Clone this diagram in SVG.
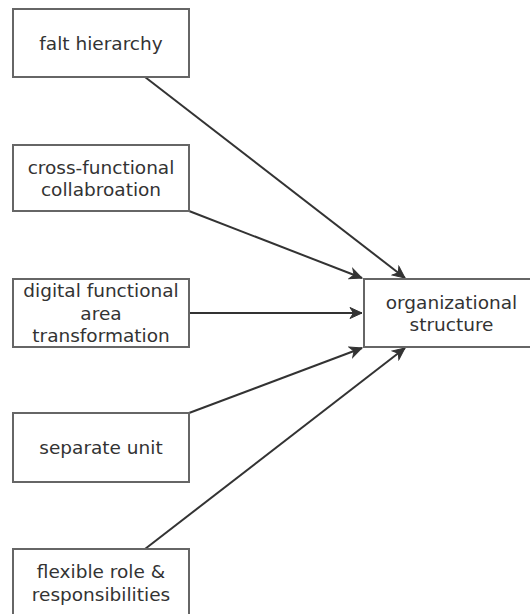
<svg xmlns="http://www.w3.org/2000/svg" width="530" height="614" viewBox="0 0 530 614">
  <style>
    .box { fill: #ffffff; stroke: #666666; stroke-width: 2; }
    .label { font-family: "DejaVu Sans", Verdana, sans-serif; font-size: 18.5px; fill: #333333; text-anchor: middle; }
    .edge { fill: none; stroke: #333333; stroke-width: 2; }
  </style>
  <defs>
    <marker id="arrow" markerUnits="userSpaceOnUse" markerWidth="15" markerHeight="13" refX="13" refY="6.5" orient="auto">
      <path d="M1,1 L13,6.5 L1,12 L4.5,6.5 Z" fill="#333333" stroke="#333333" stroke-width="1" stroke-linejoin="miter"/>
    </marker>
  </defs>
  <rect width="530" height="614" fill="#ffffff"/>

  <g id="connectors">
    <path class="edge" d="M145,77 L405,278" marker-end="url(#arrow)"/>
    <path class="edge" d="M189,211 L362,278" marker-end="url(#arrow)"/>
    <path class="edge" d="M189,313 L362,313" marker-end="url(#arrow)"/>
    <path class="edge" d="M189,413 L362,348" marker-end="url(#arrow)"/>
    <path class="edge" d="M145,549 L405,348" marker-end="url(#arrow)"/>
  </g>

  <g id="falt-hierarchy">
    <rect class="box" x="13" y="9" width="176" height="68"/>
    <text class="label" x="101" y="49.5">falt hierarchy</text>
  </g>

  <g id="cross-functional">
    <rect class="box" x="13" y="145" width="176" height="66"/>
    <text class="label" x="101" y="173.5">cross-functional</text>
    <text class="label" x="101" y="196">collabroation</text>
  </g>

  <g id="digital-transformation">
    <rect class="box" x="13" y="279" width="176" height="68"/>
    <text class="label" x="101" y="297">digital functional</text>
    <text class="label" x="101" y="319.5">area</text>
    <text class="label" x="101" y="342">transformation</text>
  </g>

  <g id="separate-unit">
    <rect class="box" x="13" y="413" width="176" height="69"/>
    <text class="label" x="101" y="454">separate unit</text>
  </g>

  <g id="flexible-role">
    <rect class="box" x="13" y="549" width="176" height="68"/>
    <text class="label" x="101" y="578">flexible role &amp;</text>
    <text class="label" x="101" y="600.5">responsibilities</text>
  </g>

  <g id="organizational-structure">
    <rect class="box" x="364" y="279" width="175" height="68"/>
    <text class="label" x="451.5" y="308.5">organizational</text>
    <text class="label" x="451.5" y="331">structure</text>
  </g>
</svg>
